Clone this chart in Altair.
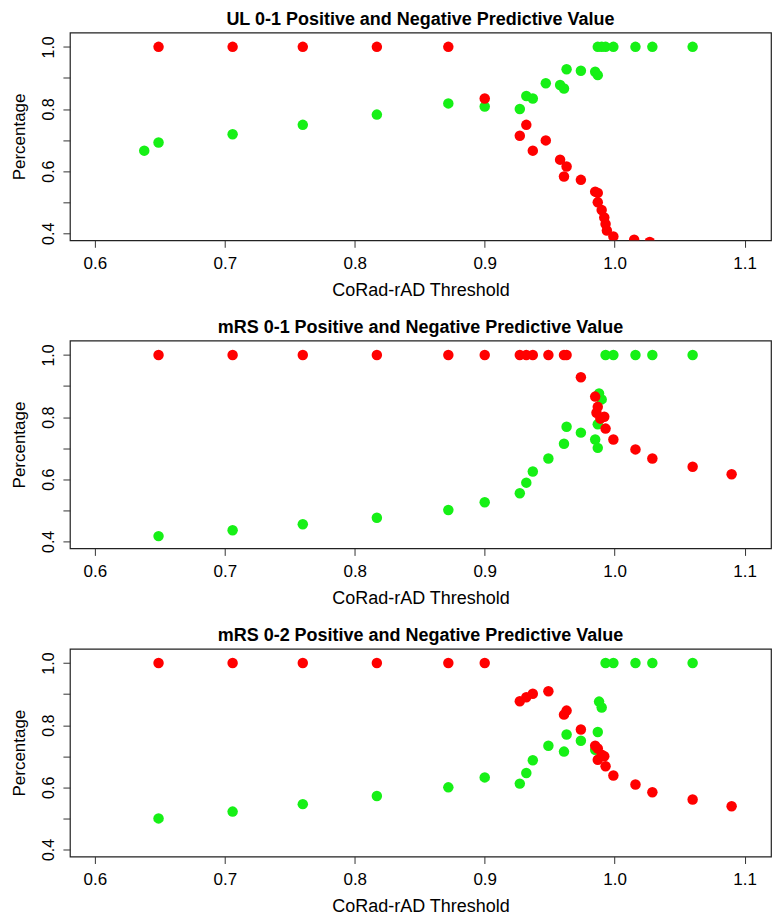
import altair as alt
import pandas as pd

# ---- Panel 1: UL 0-1 ----
ul_green_x = [0.638, 0.649, 0.706, 0.760, 0.817, 0.872, 0.900, 0.927, 0.932, 0.937,
              0.947, 0.958, 0.961, 0.963, 0.974, 0.985, 0.987, 0.987, 0.990, 0.993,
              0.999, 1.016, 1.029, 1.060]
ul_green_y = [0.666, 0.692, 0.719, 0.749, 0.782, 0.818, 0.808, 0.800, 0.842, 0.834,
              0.883, 0.877, 0.866, 0.928, 0.923, 0.920, 0.909, 1.000, 1.000, 1.000,
              1.000, 1.000, 1.000, 1.000]
ul_red_x = [0.649, 0.706, 0.760, 0.817, 0.872, 0.900, 0.932, 0.927, 0.947, 0.937,
            0.958, 0.963, 0.961, 0.974, 0.985, 0.987, 0.987, 0.990, 0.992, 0.993,
            0.994, 0.999, 1.015, 1.027]
ul_red_y = [1.000, 1.000, 1.000, 1.000, 1.000, 0.834, 0.749, 0.714, 0.699, 0.666,
            0.637, 0.615, 0.583, 0.572, 0.534, 0.530, 0.500, 0.475, 0.451, 0.430,
            0.409, 0.390, 0.379, 0.372]

# ---- Panel 2: mRS 0-1 ----
m1_green_x = [0.649, 0.706, 0.760, 0.817, 0.872, 0.900, 0.927, 0.932, 0.937, 0.949,
              0.961, 0.963, 0.974, 0.985, 0.987, 0.988, 0.990, 0.987, 0.993, 0.999,
              1.016, 1.029, 1.060]
m1_green_y = [0.417, 0.436, 0.455, 0.476, 0.501, 0.526, 0.555, 0.589, 0.625, 0.667,
              0.714, 0.769, 0.750, 0.728, 0.701, 0.876, 0.857, 0.777, 1.000, 1.000,
              1.000, 1.000, 1.000]
m1_red_x = [0.649, 0.706, 0.760, 0.817, 0.872, 0.900, 0.927, 0.932, 0.937, 0.949,
            0.961, 0.963, 0.974, 0.985, 0.987, 0.986, 0.989, 0.992, 0.993, 0.999,
            1.016, 1.029, 1.060, 1.090]
m1_red_y = [1.000, 1.000, 1.000, 1.000, 1.000, 1.000, 1.000, 1.000, 1.000, 1.000,
            1.000, 1.000, 0.928, 0.866, 0.833, 0.814, 0.795, 0.801, 0.763, 0.728,
            0.696, 0.667, 0.640, 0.616]

# ---- Panel 3: mRS 0-2 ----
m2_green_x = [0.649, 0.706, 0.760, 0.817, 0.872, 0.900, 0.927, 0.932, 0.937, 0.949,
              0.961, 0.963, 0.974, 0.985, 0.987, 0.988, 0.990, 0.993, 0.999, 1.016,
              1.029, 1.060]
m2_green_y = [0.500, 0.522, 0.546, 0.572, 0.600, 0.632, 0.612, 0.646, 0.687, 0.734,
              0.715, 0.770, 0.750, 0.721, 0.778, 0.876, 0.857, 1.000, 1.000, 1.000,
              1.000, 1.000]
m2_red_x = [0.649, 0.706, 0.760, 0.817, 0.872, 0.900, 0.927, 0.932, 0.937, 0.949,
            0.961, 0.963, 0.974, 0.985, 0.987, 0.987, 0.990, 0.992, 0.993, 0.999,
            1.016, 1.029, 1.060, 1.090]
m2_red_y = [1.000, 1.000, 1.000, 1.000, 1.000, 1.000, 0.877, 0.890, 0.901, 0.909,
            0.834, 0.847, 0.786, 0.734, 0.725, 0.689, 0.705, 0.700, 0.668, 0.638,
            0.609, 0.584, 0.561, 0.539]

titles = ["UL 0-1 Positive and Negative Predictive Value",
          "mRS 0-1 Positive and Negative Predictive Value",
          "mRS 0-2 Positive and Negative Predictive Value"]
x_ticks = [0.6, 0.7, 0.8, 0.9, 1.0, 1.1]
y_ticks = [0.4, 0.5, 0.6, 0.7, 0.8, 0.9, 1.0]

RED = "#FF0000"
GREEN = "#16F016"
FONT = "Liberation Sans"


def frame(gx, gy, rx, ry):
    g = pd.DataFrame({"x": gx, "y": gy, "s": "green", "o": 0})
    r = pd.DataFrame({"x": rx, "y": ry, "s": "red", "o": 1})
    return pd.concat([g, r], ignore_index=True)


def panel(df, title):
    return alt.Chart(df).mark_circle(size=110, opacity=1, clip=True).encode(
        x=alt.X("x:Q", title="CoRad-rAD Threshold",
                scale=alt.Scale(domain=[0.5808, 1.1203], nice=False, zero=False),
                axis=alt.Axis(values=x_ticks, format=".1f", grid=False, domain=False,
                              tickSize=7, tickColor="#333", labelPadding=8,
                              labelFontSize=17, titleFontSize=18, titlePadding=10,
                              titleFontWeight="normal", labelColor="black",
                              titleColor="black", labelFont=FONT, titleFont=FONT)),
        y=alt.Y("y:Q", title="Percentage",
                scale=alt.Scale(domain=[0.3775, 1.046], nice=False, zero=False),
                axis=alt.Axis(values=y_ticks, grid=False, domain=False,
                              labelExpr="round(datum.value*10) % 2 == 0 ? format(datum.value, '.1f') : ''",
                              tickSize=7, tickColor="#333", labelAngle=-90,
                              labelAlign="center", labelBaseline="bottom",
                              labelPadding=6, labelFontSize=16, titleFontSize=17,
                              titlePadding=12, titleFontWeight="normal",
                              labelColor="black", titleColor="black",
                              labelFont=FONT, titleFont=FONT)),
        color=alt.Color("s:N", scale=alt.Scale(domain=["green", "red"], range=[GREEN, RED]),
                        legend=None),
        order=alt.Order("o:Q"),
    ).properties(
        width=702, height=208,
        title=alt.TitleParams(title, fontSize=18, fontWeight="bold", font=FONT,
                              anchor="middle", offset=4, color="black"),
    )


p1 = panel(frame(ul_green_x, ul_green_y, ul_red_x, ul_red_y), titles[0])
p2 = panel(frame(m1_green_x, m1_green_y, m1_red_x, m1_red_y), titles[1])
p3 = panel(frame(m2_green_x, m2_green_y, m2_red_x, m2_red_y), titles[2])

chart = alt.vconcat(p1, p2, p3, spacing=17.5).properties(
    padding={"left": 2, "top": 1, "right": 0, "bottom": 0},
    background="white",
).configure_view(stroke="#222", strokeWidth=1.2)

chart.save("out.html", embed_options={"renderer": "svg", "actions": False})
